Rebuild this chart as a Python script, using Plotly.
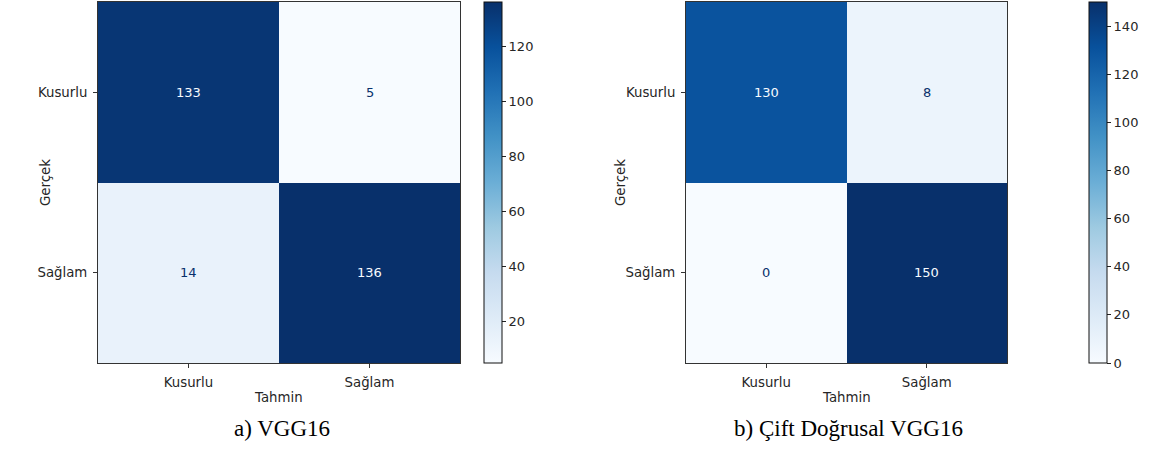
import plotly.graph_objects as go

# Class labels (rows = true, columns = predicted)
classes = ["Kusurlu", "Sağlam"]

# Confusion matrices
cm_vgg16 = [[133, 5],
            [14, 136]]
cm_bilinear = [[130, 8],
               [0, 150]]

titles = ["a) VGG16", "b) Çift Doğrusal VGG16"]
x_title = "Tahmin"
y_title = "Gerçek"

cbar_ticks_a = [20, 40, 60, 80, 100, 120]
cbar_ticks_b = [0, 20, 40, 60, 80, 100, 120, 140]

# matplotlib "Blues"
blues = ["#f7fbff", "#deebf7", "#c6dbef", "#9ecae1", "#6baed6",
         "#4292c6", "#2171b5", "#08519c", "#08306b"]
colorscale = [[i / (len(blues) - 1), c] for i, c in enumerate(blues)]

W, H = 1151, 450
SANS = "DejaVu Sans, Verdana, sans-serif"
SERIF = "Times New Roman, Liberation Serif, serif"
TXT = "#262626"


def px_x(p):
    return p / W


def px_y(p):
    return 1 - p / H


y_dom = [px_y(363), px_y(2)]
panels = [
    dict(cm=cm_vgg16, xdom=[px_x(98), px_x(460)], cbx=484, ticks=cbar_ticks_a,
         ytitle_x=45, xtitle_x=278, cap_x=282),
    dict(cm=cm_bilinear, xdom=[px_x(686), px_x(1007)], cbx=1089, ticks=cbar_ticks_b,
         ytitle_x=620, xtitle_x=846, cap_x=848),
]

fig = go.Figure()
annotations = []
for i, p in enumerate(panels):
    n = i + 1
    xa = "x" if n == 1 else f"x{n}"
    ya = "y" if n == 1 else f"y{n}"
    z = p["cm"]
    flat = [v for row in z for v in row]
    zmin, zmax = min(flat), max(flat)
    fig.add_trace(go.Heatmap(
        z=z, x=classes, y=classes, xaxis=xa, yaxis=ya,
        zmin=zmin, zmax=zmax, colorscale=colorscale,
        hoverinfo="skip", xgap=0, ygap=0,
        colorbar=dict(
            x=px_x(p["cbx"]), xanchor="left", xpad=0, ypad=0,
            y=px_y(182.5), yanchor="middle",
            len=361, lenmode="pixels", thickness=18,
            outlinewidth=1, outlinecolor="#111",
            tickvals=p["ticks"], ticks="outside", ticklen=4,
            tickcolor="#222", tickwidth=1,
            tickfont=dict(family=SANS, size=13, color=TXT),
        ),
    ))
    # cell values, light text on dark cells and vice versa
    thresh = (zmin + zmax) / 2
    for r, row_lab in enumerate(classes):
        for c, col_lab in enumerate(classes):
            v = z[r][c]
            annotations.append(dict(
                x=col_lab, y=row_lab, xref=xa, yref=ya, text=str(v),
                showarrow=False,
                font=dict(family=SANS, size=13,
                          color=blues[0] if v > thresh else blues[-1]),
            ))
    axis_common = dict(showline=True, mirror=True, linecolor="#333", linewidth=1,
                       ticks="outside", ticklen=4, tickcolor="#333",
                       showgrid=False, zeroline=False,
                       tickfont=dict(family=SANS, size=13.3, color=TXT))
    fig.update_layout({
        ("xaxis" if n == 1 else f"xaxis{n}"): dict(
            domain=p["xdom"], anchor=ya, ticklabelstandoff=3, **axis_common),
        ("yaxis" if n == 1 else f"yaxis{n}"): dict(
            domain=y_dom, anchor=xa, autorange="reversed",
            ticklabelstandoff=3, **axis_common),
    })
    annotations.append(dict(
        x=px_x(p["xtitle_x"]), y=px_y(397), xref="paper", yref="paper",
        text=x_title, showarrow=False, xanchor="center", yanchor="middle",
        font=dict(family=SANS, size=13.3, color=TXT)))
    annotations.append(dict(
        x=px_x(p["ytitle_x"]), y=px_y(183), xref="paper", yref="paper",
        text=y_title, showarrow=False, textangle=-90,
        xanchor="center", yanchor="middle",
        font=dict(family=SANS, size=13.3, color=TXT)))
    annotations.append(dict(
        x=px_x(p["cap_x"]), y=px_y(428), xref="paper", yref="paper",
        text=titles[i], showarrow=False, xanchor="center", yanchor="middle",
        font=dict(family=SERIF, size=23, color="#000")))

fig.update_layout(
    width=W, height=H,
    margin=dict(l=0, r=0, t=0, b=0),
    paper_bgcolor="white", plot_bgcolor="white",
    annotations=annotations,
)

fig.write_html("out.html")
